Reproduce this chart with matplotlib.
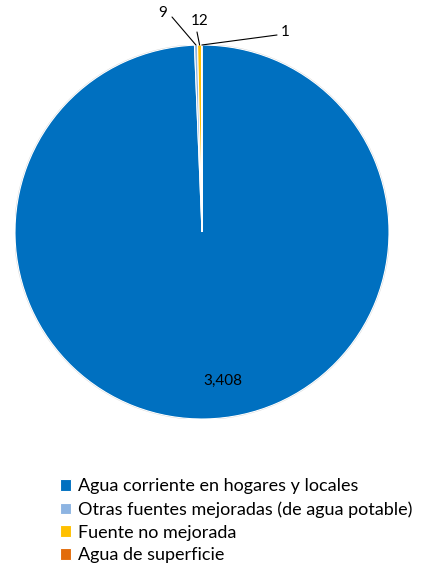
import numpy as np
import matplotlib.pyplot as plt

plt.rcParams['font.family'] = ['Lato', 'DejaVu Sans']

# data
labels = ['Agua corriente en hogares y locales',
          'Otras fuentes mejoradas (de agua potable)',
          'Fuente no mejorada',
          'Agua de superficie']
values = [3408, 9, 12, 1]
colors = ['#0070C0', '#8DB4E2', '#FFC000', '#E26B0A']

W, H = 427, 568
fig = plt.figure(figsize=(W / 100, H / 100), dpi=100)
cx, cy, r = 202, 232, 187
ax = fig.add_axes([(cx - r) / W, 1 - (cy + r) / H, 2 * r / W, 2 * r / H])

wedges, _ = ax.pie(values, colors=colors, startangle=90, counterclock=False,
                   radius=1, wedgeprops=dict(edgecolor='white', linewidth=0.8))
ax.set_xlim(-1, 1)
ax.set_ylim(-1, 1)
ax.set_aspect('equal')
ax.axis('off')

# soft grey rim like the original
ax.add_patch(plt.Circle((0, 0), 1.0, fill=False, edgecolor='#d0d0d0', linewidth=1.2, zorder=0))

def edge_point(w):
    a = np.deg2rad((w.theta1 + w.theta2) / 2)
    return np.cos(a), np.sin(a)

def px(x, y):
    return (x - cx) / r, (cy - y) / r

# big slice label
ax.text(*px(223, 381), f'{values[0]:,}', ha='center', va='center', fontsize=11, color='black')

# small slices with leader lines
lbl_pos = [None, px(163, 13), px(200, 21), px(285, 32)]
line_start = [None, px(172, 17), px(197, 32), px(277, 35)]
for i in (1, 2, 3):
    ex, ey = edge_point(wedges[i])
    ax.text(*lbl_pos[i], str(values[i]), ha='center', va='center', fontsize=11,
            color='black', clip_on=False)
    sx, sy = line_start[i]
    ax.annotate('', xy=(ex, ey), xytext=(sx, sy),
                arrowprops=dict(arrowstyle='-', color='black', lw=0.8,
                                shrinkA=0, shrinkB=0), annotation_clip=False)

leg = fig.legend(wedges, labels, loc='upper left', bbox_to_anchor=(53 / W, 1 - 471 / H),
                 frameon=False, fontsize=13, handlelength=0.6, handleheight=0.6,
                 handletextpad=0.4, labelspacing=0.38, borderaxespad=0)

fig.savefig('out.png', dpi=100)
